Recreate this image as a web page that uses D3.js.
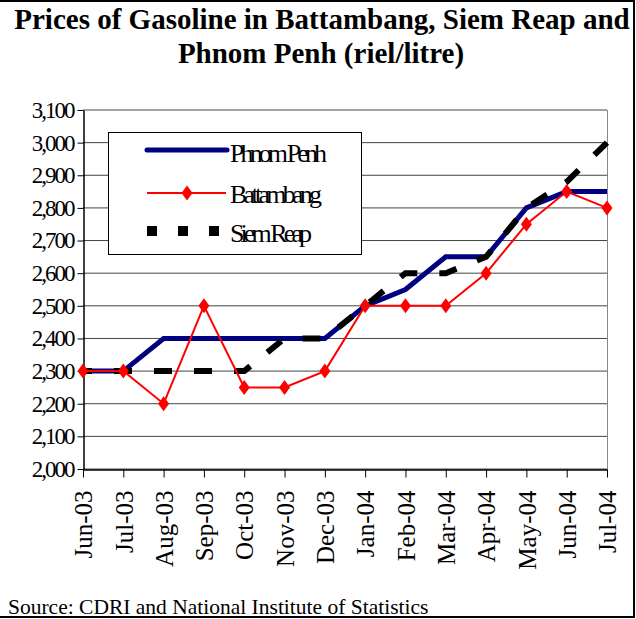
<!DOCTYPE html>
<html>
<head>
<meta charset="utf-8">
<script src="https://cdn.jsdelivr.net/npm/d3@7"></script>
<style>
  body { margin: 0; background: #fff; }
  text { font-family: "Liberation Serif", "Times New Roman", serif; }
</style>
</head>
<body>
<script>
var months = ["Jun-03","Jul-03","Aug-03","Sep-03","Oct-03","Nov-03","Dec-03",
              "Jan-04","Feb-04","Mar-04","Apr-04","May-04","Jun-04","Jul-04"];
var phnomPenh  = [2300,2300,2400,2400,2400,2400,2400,2500,2550,2650,2650,2800,2850,2850];
var battambang = [2300,2300,2200,2500,2250,2250,2300,2500,2500,2500,2600,2750,2850,2800];
var siemReap   = [2300,2300,2300,2300,2300,2400,2400,2500,2600,2600,2650,2800,2880,3000];
var yTicks = [2000,2100,2200,2300,2400,2500,2600,2700,2800,2900,3000,3100];

var w = 636, h = 619;

var svg = d3.select("body").append("svg")
    .attr("width", w)
    .attr("height", h);

// outer frame (left side cut off)
svg.append("rect")
    .attr("x", -10).attr("y", 1)
    .attr("width", 644).attr("height", 616)
    .attr("fill", "none")
    .attr("stroke", "#000")
    .attr("stroke-width", 2);

// title
var title = svg.append("text")
    .attr("text-anchor", "middle")
    .style("font-size", "29px")
    .style("font-weight", "bold");
title.append("tspan").attr("x", 322).attr("y", 29)
    .text("Prices of Gasoline in Battambang, Siem Reap and");
title.append("tspan").attr("x", 321).attr("y", 63)
    .text("Phnom Penh (riel/litre)");

var x = d3.scalePoint().domain(months).range([83, 607]);
var y = d3.scaleLinear().domain([2000, 3100]).range([469, 110]);

// gridlines
svg.selectAll(".grid")
    .data(yTicks)
    .enter()
    .append("line")
    .attr("class", "grid")
    .attr("x1", 83).attr("x2", 607)
    .attr("y1", (d) => y(d)).attr("y2", (d) => y(d))
    .attr("stroke", "#444")
    .attr("stroke-width", 1);

svg.append("line")
    .attr("x1", 607.5).attr("x2", 607.5)
    .attr("y1", y(3100)).attr("y2", y(2000))
    .attr("stroke", "#888");

// axes
var yAxis = svg.append("g")
    .attr("transform", "translate(83.5,0)")
    .call(d3.axisLeft(y).tickValues(yTicks).tickSize(6).tickSizeOuter(0)
          .tickFormat(d3.format(",")));
yAxis.select(".domain").attr("stroke", "#000").attr("stroke-width", 1.5);
yAxis.selectAll("text")
    .attr("x", -10)
    .style("font-size", "23px")
    .style("letter-spacing", "-2px")
    .attr("fill", "#000");

var xAxis = svg.append("g")
    .attr("transform", "translate(0,469.5)")
    .call(d3.axisBottom(x).tickSize(8).tickSizeOuter(0));
xAxis.select(".domain").attr("stroke", "#000").attr("stroke-width", 1.5);
xAxis.selectAll("text")
    .attr("transform", "rotate(-90)")
    .attr("text-anchor", "end")
    .attr("x", -21)
    .attr("y", 0)
    .attr("dy", "0.35em")
    .style("font-size", "25px")
    .attr("fill", "#000");

var line = d3.line()
    .x((d, i) => x(months[i]))
    .y((d) => y(d));

svg.append("path")
    .datum(phnomPenh)
    .attr("d", line)
    .attr("fill", "none")
    .attr("stroke", "#000080")
    .attr("stroke-width", 5);

svg.append("path")
    .datum(siemReap)
    .attr("d", line)
    .attr("fill", "none")
    .attr("stroke", "#000")
    .attr("stroke-width", 6)
    .attr("stroke-dasharray", "18,22")
    .attr("stroke-dashoffset", 9);

svg.append("path")
    .datum(battambang)
    .attr("d", line)
    .attr("fill", "none")
    .attr("stroke", "#ff0000")
    .attr("stroke-width", 2);

var diamond = "M0,-7.5L5.5,0L0,7.5L-5.5,0Z";
svg.selectAll(".mk")
    .data(battambang)
    .enter()
    .append("path")
    .attr("class", "mk")
    .attr("d", diamond)
    .attr("transform", (d, i) => "translate(" + x(months[i]) + "," + y(d) + ")")
    .attr("fill", "#ff0000");

// legend
var lg = svg.append("g");
lg.append("rect")
    .attr("x", 108.5).attr("y", 132.5)
    .attr("width", 253).attr("height", 122)
    .attr("fill", "#fff")
    .attr("stroke", "#000");

lg.append("line")
    .attr("x1", 147).attr("x2", 227).attr("y1", 150).attr("y2", 150)
    .attr("stroke", "#000080").attr("stroke-width", 5)
    .attr("stroke-linecap", "round");
lg.append("line")
    .attr("x1", 147).attr("x2", 226).attr("y1", 193).attr("y2", 193)
    .attr("stroke", "#ff0000").attr("stroke-width", 2);
lg.append("path")
    .attr("d", diamond)
    .attr("transform", "translate(187,193)")
    .attr("fill", "#ff0000");
lg.append("line")
    .attr("x1", 147).attr("x2", 221).attr("y1", 231).attr("y2", 231)
    .attr("stroke", "#000").attr("stroke-width", 10)
    .attr("stroke-dasharray", "10,21");

var legendNames = ["Phnom Penh", "Battambang", "Siem Reap"];
var legendLen = [97, 92, 82];
var legendY = [162, 203, 242];
lg.selectAll(".lt")
    .data(legendNames)
    .enter()
    .append("text")
    .attr("class", "lt")
    .attr("x", 230)
    .attr("y", (d, i) => legendY[i])
    .attr("textLength", (d, i) => legendLen[i])
    .attr("lengthAdjust", "spacing")
    .style("font-size", "26px")
    .text((d) => d);

svg.append("text")
    .attr("x", 8).attr("y", 614)
    .style("font-size", "21.5px")
    .text("Source: CDRI and National Institute of Statistics");
</script>
</body>
</html>
